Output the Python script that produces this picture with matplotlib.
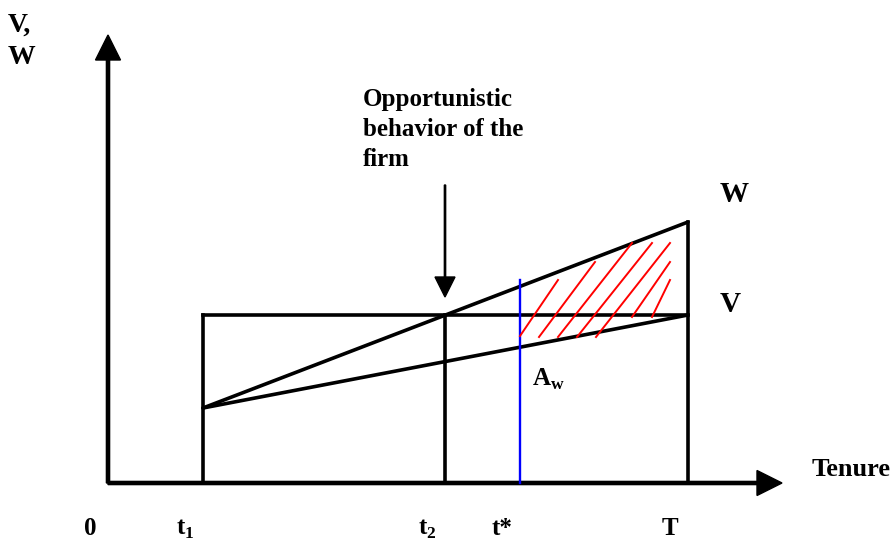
import matplotlib
matplotlib.use("Agg")
import matplotlib.pyplot as plt

plt.rcParams['font.family'] = ['Liberation Serif', 'DejaVu Serif']
plt.rcParams['font.weight'] = 'bold'

# positions on the tenure axis
t1 = 95
t2 = 337
t_star = 412
T = 580

# values
V_level = 168
W_start, W_end = 75, 261
V_start, V_end = 75, 168
blue_top = 203

tick_pos = [0, t1, t2, t_star, T]
tick_labels = ['0', r't$_\mathregular{1}$', r't$_\mathregular{2}$', 't*', 'T']

# red hatch strokes (start x, start y, end x, end y)
hatch_x0 = [412, 431, 450, 469, 488, 524, 544]
hatch_y0 = [147, 146, 146, 146, 146, 166, 166]
hatch_x1 = [450, 487, 524, 544, 562, 562, 562]
hatch_y1 = [203, 221, 240, 240, 240, 221, 203]

fig = plt.figure(figsize=(8.96, 5.41), dpi=100)
ax = fig.add_axes([0, 0, 1, 1])
ax.set_xlim(-108, 788)
ax.set_ylim(-58, 483)
ax.axis('off')

lw = 2.6
# axes with arrow heads
ax.arrow(0, 0, 0, 448, width=3.2, head_width=25, head_length=25,
         length_includes_head=True, color='k')
ax.arrow(0, 0, 674, 0, width=3.2, head_width=25, head_length=25,
         length_includes_head=True, color='k')

# box and lines
ax.plot([t1, t1], [0, V_level], color='k', lw=lw)
ax.plot([t1, T], [V_level, V_level], color='k', lw=lw)
ax.plot([t2, t2], [0, V_level], color='k', lw=lw)
ax.plot([T, T], [0, W_end], color='k', lw=lw)
ax.plot([t1, T], [W_start, W_end], color='k', lw=lw, solid_capstyle='round')
ax.plot([t1, T], [V_start, V_end], color='k', lw=lw, solid_capstyle='round')
ax.plot([t_star, t_star], [0, blue_top], color='blue', lw=1.7)

for a, b, c, d in zip(hatch_x0, hatch_y0, hatch_x1, hatch_y1):
    ax.plot([a, c], [b, d], color='red', lw=1.4)

# arrow for the firm
ax.arrow(t2, 298, 0, -112, width=1.3, head_width=20, head_length=20,
         length_includes_head=True, color='k')

fs = 18
ax.text(255, 395, 'Opportunistic\nbehavior of the\nfirm', fontsize=fs,
        ha='left', va='top', linespacing=1.4)
ax.text(-100, 470, 'V,\nW', fontsize=20, ha='left', va='top', linespacing=1.35)
ax.text(T + 46, W_end + 28, 'W', fontsize=21, ha='center', va='center')
ax.text(T + 42, V_level + 10, 'V', fontsize=21, ha='center', va='center')
ax.text(704, 14, 'Tenure', fontsize=19, ha='left', va='center')
ax.text(t_star + 12, 104, r'A$_\mathregular{w}$', fontsize=fs,
        ha='left', va='center')

for p, lab in zip(tick_pos, tick_labels):
    ax.text(p - 18, -52, lab, fontsize=fs, ha='center', va='baseline')

fig.savefig('out.png', dpi=100)
